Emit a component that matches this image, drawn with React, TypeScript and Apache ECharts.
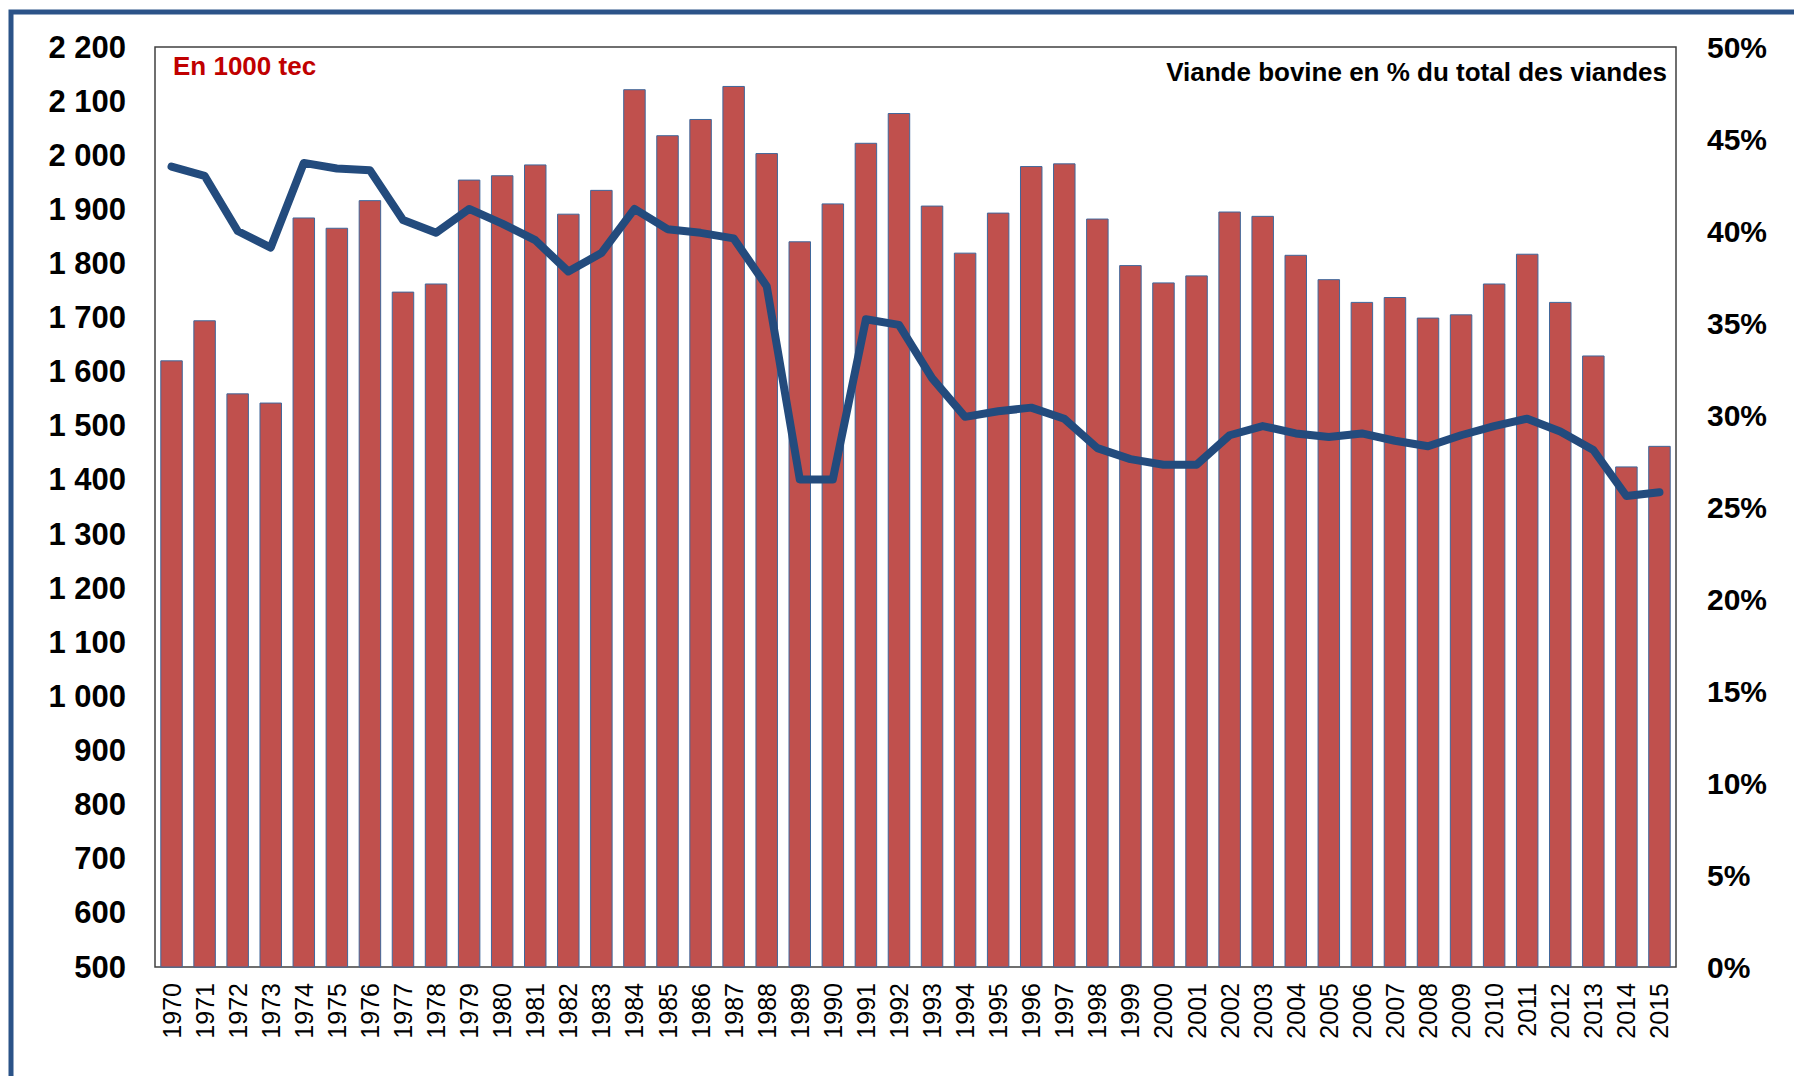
import React, { useEffect, useRef } from "react";
import * as echarts from "echarts";

const years = [
  "1970","1971","1972","1973","1974","1975","1976","1977","1978","1979",
  "1980","1981","1982","1983","1984","1985","1986","1987","1988","1989",
  "1990","1991","1992","1993","1994","1995","1996","1997","1998","1999",
  "2000","2001","2002","2003","2004","2005","2006","2007","2008","2009",
  "2010","2011","2012","2013","2014","2015",
];

const production = [
  1621, 1695, 1560, 1543, 1885, 1866, 1917, 1748, 1763, 1955,
  1963, 1983, 1892, 1936, 2122, 2037, 2067, 2128, 2004, 1841,
  1911, 2023, 2078, 1907, 1820, 1894, 1980, 1985, 1883, 1797,
  1765, 1778, 1896, 1888, 1816, 1771, 1729, 1738, 1700, 1706,
  1763, 1818, 1729, 1630, 1425, 1463,
];

const sharePct = [
  43.5, 43.0, 40.0, 39.1, 43.7, 43.4, 43.3, 40.6, 39.9, 41.2,
  40.4, 39.5, 37.8, 38.8, 41.2, 40.1, 39.9, 39.6, 37.0, 26.5,
  26.5, 35.2, 34.9, 32.0, 29.9, 30.2, 30.4, 29.8, 28.2, 27.6,
  27.3, 27.3, 28.9, 29.4, 29.0, 28.8, 29.0, 28.6, 28.3, 28.9,
  29.4, 29.8, 29.1, 28.1, 25.6, 25.8,
];

const unitLabel = "En 1000 tec";
const shareLabel = "Viande bovine en % du total des viandes";

const FONT = "'Liberation Sans', Arial, sans-serif";

function fmtThousands(v: number): string {
  const s = String(Math.round(v));
  return s.replace(/\B(?=(\d{3})+(?!\d))/g, " ");
}

export default function App() {
  const ref = useRef<HTMLDivElement>(null);

  useEffect(() => {
    if (!ref.current) return;
    const chart = echarts.init(ref.current, null, { renderer: "svg" });
    chart.setOption({
      animation: false,
      backgroundColor: "#ffffff",
      textStyle: { fontFamily: FONT },
      grid: {
        left: 155,
        top: 47,
        right: 118,
        bottom: 109,
        show: true,
        borderColor: "#404040",
        borderWidth: 1.5,
        backgroundColor: "transparent",
      },
      xAxis: {
        type: "category",
        data: years,
        axisLine: { show: false },
        axisTick: { show: false },
        axisLabel: {
          interval: 0,
          rotate: 90,
          margin: 16,
          fontSize: 25,
          color: "#000",
          fontFamily: FONT,
        },
      },
      yAxis: [
        {
          type: "value",
          min: 500,
          max: 2200,
          interval: 100,
          splitLine: { show: false },
          axisLine: { show: false },
          axisTick: { show: false },
          axisLabel: {
            margin: 29,
            fontSize: 31,
            fontWeight: "bold",
            color: "#000",
            fontFamily: FONT,
            formatter: (v: number) => fmtThousands(v),
          },
        },
        {
          type: "value",
          min: 0,
          max: 50,
          interval: 5,
          position: "right",
          splitLine: { show: false },
          axisLine: { show: false },
          axisTick: { show: false },
          axisLabel: {
            margin: 31,
            fontSize: 30,
            fontWeight: "bold",
            color: "#000",
            fontFamily: FONT,
            formatter: "{value}%",
          },
        },
      ],
      series: [
        {
          type: "bar",
          data: production,
          yAxisIndex: 0,
          barCategoryGap: "32%",
          itemStyle: {
            color: "#C0504D",
            borderColor: "#3F679B",
            borderWidth: 1,
          },
        },
        {
          type: "line",
          data: sharePct,
          yAxisIndex: 1,
          symbol: "none",
          lineStyle: { color: "#234B7D", width: 8, join: "round", cap: "round" },
        },
      ],
      graphic: [
        {
          type: "rect",
          shape: { x: 11, y: 12, width: 2000, height: 2000 },
          style: { fill: "none", stroke: "#2B5388", lineWidth: 5 },
          silent: true,
        },
        {
          type: "text",
          x: 173,
          y: 65.5,
          style: {
            text: unitLabel,
            fill: "#C00000",
            font: `bold 26px ${FONT}`,
            align: "left",
            verticalAlign: "middle",
          },
        },
        {
          type: "text",
          x: 1667,
          y: 71.5,
          style: {
            text: shareLabel,
            fill: "#000",
            font: `bold 26px ${FONT}`,
            align: "right",
            verticalAlign: "middle",
          },
        },
      ],
    });
    return () => chart.dispose();
  }, []);

  return (
    <div
      ref={ref}
      style={{ position: "fixed", left: 0, top: 0, width: 1794, height: 1076 }}
    />
  );
}
